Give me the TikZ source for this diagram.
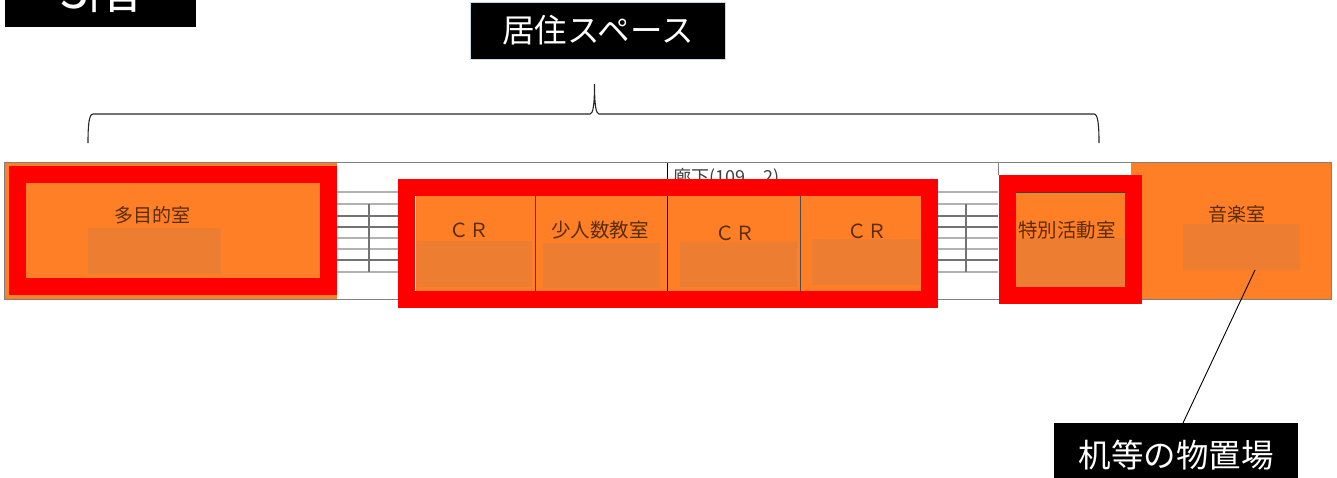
\documentclass[tikz,border=0pt]{standalone}
\usepackage{fontspec}
\setmainfont{Noto Sans CJK JP}
\definecolor{roomorange}{HTML}{FF7F27}
\definecolor{restorange}{HTML}{ED7D31}
\definecolor{roomtext}{HTML}{5A2C06}
\definecolor{bannerline}{HTML}{C5D8EA}
\newcommand{\fs}[1]{\fontsize{#1}{#1}\selectfont}

\begin{document}
\begin{tikzpicture}[
        x=1pt,
        y=-1pt,
        every node/.style={inner sep=0pt, outer sep=0pt},
        room/.style={font=\fs{19}, text=roomtext},
        roomwide/.style={font=\fs{19.5}, text=roomtext},
        banner/.style={fill=black, text=white, font=\fs{32.5}, align=center},
        rest/.style={fill=restorange},
        frame/.style={draw=red, line width=17pt},
        wall/.style={draw=gray, line width=1pt},
        thinline/.style={draw=gray!60, line width=1.3pt},
        darkline/.style={draw=gray!90!black, line width=1.2pt},
        leader/.style={draw=black, line width=0.9pt}
    ]
    \useasboundingbox (0,0) rectangle (1337,477);

    % plan
    \fill[white] (4,162.5) rectangle (1331,299.5);
    \foreach \ypos in {192,204,238,249,272} {
        \draw[thinline] (337,\ypos) -- (398,\ypos);
        \draw[thinline] (938,\ypos) -- (998,\ypos);
    }
    \foreach \ypos in {216,227,260} {
        \draw[darkline] (337,\ypos) -- (398,\ypos);
        \draw[darkline] (938,\ypos) -- (998,\ypos);
    }
    \draw[darkline] (369,204) -- (369,272);
    \draw[darkline] (966,204) -- (966,272);
    \node[anchor=west, font=\fs{18}, text=black!75] (corridor) at (673,178) {廊下(109．2)};

    \fill[roomorange] (4,162.5) rectangle (337,299.5);
    \fill[roomorange] (1131,162.5) rectangle (1331,299.5);
    \fill[roomorange] (416,196) rectangle (921,291);
    \fill[roomorange] (1016,192) rectangle (1125,287);
    \draw[wall] (4,162.5) rectangle (1331,299.5);
    \draw[wall] (998,162.5) -- (998,175);
    \draw[draw=black, line width=0.8pt] (667.5,162.5) -- (667.5,196);
    \draw[draw=black!75, line width=1pt] (1016,192) -- (1125,192);

    % rest areas
    \fill[rest] (88,228) rectangle (221,274);
    \fill[rest] (416,241) rectangle (532,287);
    \fill[rest] (543,243) rectangle (660,288);
    \fill[rest] (680,242) rectangle (797,287);
    \fill[rest] (812,239) rectangle (920,285);
    \fill[rest] (1016,238) rectangle (1125,287);
    \fill[rest] (1183,224) rectangle (1300,270);

    \draw[draw=black!75, line width=1pt] (535,196) -- (535,291);
    \draw[draw=black, line width=0.8pt] (667.5,196) -- (667.5,291);
    \draw[draw=black!70, line width=1pt] (800,196) -- (800,291);

    \node[room] (tamokuteki) at (152,215) {多目的室};
    \node[roomwide] (cr1) at (469,230) {ＣＲ};
    \node[roomwide] (shoninzu) at (600,230) {少人数教室};
    \node[roomwide] (cr2) at (735,233) {ＣＲ};
    \node[roomwide] (cr3) at (867,231) {ＣＲ};
    \node[roomwide] (tokubetsu) at (1067,230) {特別活動室};
    \node[room] (ongaku) at (1237,214) {音楽室};

    % frames
    \draw[frame] (17.5,174.5) rectangle (328.5,286.5);
    \draw[frame] (406.5,187.5) rectangle (929.5,299.5);
    \draw[frame] (1007,183) rectangle (1133.5,295);

    % labels
    \node[banner, minimum width=191pt, minimum height=76pt, font=\fs{52}] (floor) at (100.5,-11) {3階};
    \node[banner, draw=bannerline, line width=1pt, minimum width=255pt, minimum height=57pt] (living) at (598,30.5) {居住スペース};
    \node[banner, minimum width=244pt, minimum height=64pt] (storage) at (1176,455) {机等の物置場};

    % brace
    \coordinate (braceleft) at (88,143);
    \coordinate (bracetip) at (594.5,84);
    \coordinate (braceright) at (1099,143);
    \draw[draw=black!85, line width=1.1pt]
        (braceleft) .. controls (88,125) and (89,114) .. (93,114)
        -- (590,114) .. controls (593,114) and (594.5,105) .. (bracetip)
        .. controls (594.5,105) and (596,114) .. (599,114)
        -- (1094,114) .. controls (1098,114) and (1099,125) .. (braceright);

    % leader
    \coordinate (leaderstart) at (1255,270);
    \coordinate (leaderend) at (1183,423);
    \draw[leader] (leaderstart) -- (leaderend);
\end{tikzpicture}
\end{document}
